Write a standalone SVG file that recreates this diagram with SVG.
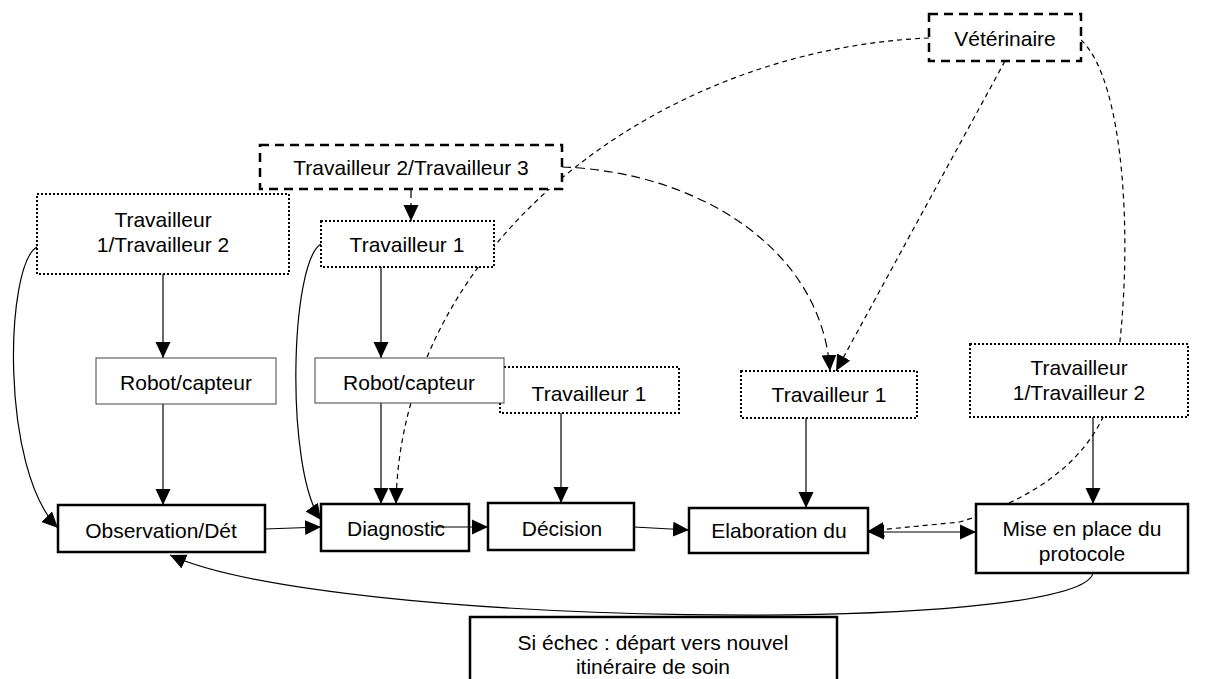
<svg xmlns="http://www.w3.org/2000/svg" width="1215" height="679" viewBox="0 0 1215 679">
<style>
.proc{fill:#fff;stroke:#000;stroke-width:2.5}
.dot{fill:#fff;stroke:#000;stroke-width:2;stroke-dasharray:2,2}
.dash{fill:#fff;stroke:#000;stroke-width:2.5;stroke-dasharray:9,6}
.thin{fill:#fff;stroke:#444;stroke-width:1}
.t{font-family:"Liberation Sans",Arial,sans-serif;font-size:21px;fill:#000;text-anchor:middle}
.c{fill:none;stroke:#000;stroke-width:1.2}
.cd{fill:none;stroke:#000;stroke-width:1.2;stroke-dasharray:5,4}
.cl{fill:none;stroke:#000;stroke-width:1.2;stroke-dasharray:9,5}
</style>
<defs>
<marker id="ah" markerUnits="userSpaceOnUse" markerWidth="16" markerHeight="16" refX="16" refY="8" orient="auto">
<path d="M0,0.5 L16,8 L0,15.5 z" fill="#000"/>
</marker>
<marker id="as" markerUnits="userSpaceOnUse" markerWidth="16" markerHeight="16" refX="0" refY="8" orient="auto">
<path d="M16,0.5 L0,8 L16,15.5 z" fill="#000"/>
</marker>
</defs>
<rect width="1215" height="679" fill="#fff"/>
<g id="connectors">
<path class="c" d="M163,274 L163,358" marker-end="url(#ah)"/>
<path class="c" d="M163,404 L163,505" marker-end="url(#ah)"/>
<path class="c" d="M381,267 L381,358" marker-end="url(#ah)"/>
<path class="c" d="M381,403 L381,504" marker-end="url(#ah)"/>
<path class="c" d="M561,413 L561,503" marker-end="url(#ah)"/>
<path class="c" d="M806,418 L806,508" marker-end="url(#ah)"/>
<path class="c" d="M1093,417 L1093,504" marker-end="url(#ah)"/>
<path class="c" d="M37,247 C5,265 0,470 58,528" marker-end="url(#ah)"/>
<path class="c" d="M321,244 C290,262 285,470 321,520" marker-end="url(#ah)"/>
<path class="c" d="M265,529 L321,527" marker-end="url(#ah)"/>
<path class="c" d="M433,527 L488,527" marker-end="url(#ah)"/>
<path class="c" d="M634,527 L689,530" marker-end="url(#ah)"/>
<path class="c" d="M868,532 L976,532" marker-start="url(#as)" marker-end="url(#ah)"/>
<path class="c" d="M1093,573 C1080,635 330,628 170,555" marker-end="url(#ah)"/>
<path class="cl" d="M411,189 L411,221" marker-end="url(#ah)"/>
<path class="cl" d="M562,167 C700,172 822,250 830,371" marker-end="url(#ah)"/>
<path class="cd" d="M929,38 C650,50 400,250 396,504" marker-end="url(#ah)"/>
<path class="cd" d="M1005,61 L836,371" marker-end="url(#ah)"/>
<path class="cd" d="M1081,40 C1125,80 1135,250 1115,380 C1100,460 1030,500 960,522 L868,531" marker-end="url(#ah)"/>
</g>
<g id="n-veterinaire"><rect class="dash" x="929" y="14" width="152" height="47"/><text class="t" x="1005" y="46">Vétérinaire</text></g>
<g id="n-trav23"><rect class="dash" x="260" y="145" width="302" height="44"/><text class="t" x="411" y="175">Travailleur 2/Travailleur 3</text></g>
<g id="n-trav12-left"><rect class="dot" x="37" y="194" width="252" height="80"/><text class="t" x="163" y="227">Travailleur</text><text class="t" x="163" y="252">1/Travailleur 2</text></g>
<g id="n-trav1-diag"><rect class="dot" x="321" y="221" width="173" height="46"/><text class="t" x="407" y="252">Travailleur 1</text></g>
<g id="n-robot1"><rect class="thin" x="96" y="358" width="180" height="46"/><text class="t" x="186" y="390">Robot/capteur</text></g>
<g id="n-trav1-dec"><rect class="dot" x="500" y="367" width="179" height="46"/><text class="t" x="589" y="401">Travailleur 1</text></g>
<g id="n-robot2"><rect class="thin" x="315" y="358" width="189" height="45"/><text class="t" x="409" y="390">Robot/capteur</text></g>
<g id="n-trav1-elab"><rect class="dot" x="741" y="371" width="176" height="47"/><text class="t" x="829" y="402">Travailleur 1</text></g>
<g id="n-trav12-right"><rect class="dot" x="970" y="344" width="218" height="73"/><text class="t" x="1079" y="375">Travailleur</text><text class="t" x="1079" y="400">1/Travailleur 2</text></g>
<g id="n-observation"><rect class="proc" x="58" y="505" width="207" height="47"/><text class="t" x="161" y="538">Observation/Dét</text></g>
<g id="n-diagnostic"><rect class="proc" x="321" y="504" width="148" height="47" style="fill:none"/><text class="t" x="396" y="536">Diagnostic</text></g>
<g id="n-decision"><rect class="proc" x="488" y="503" width="146" height="47"/><text class="t" x="562" y="536">Décision</text></g>
<g id="n-elaboration"><rect class="proc" x="689" y="508" width="179" height="45"/><text class="t" x="779" y="538">Elaboration du</text></g>
<g id="n-mise"><rect class="proc" x="976" y="504" width="212" height="69"/><text class="t" x="1082" y="536">Mise en place du</text><text class="t" x="1082" y="561">protocole</text></g>
<g id="n-echec"><rect class="proc" x="470" y="617" width="367" height="80"/><text class="t" x="653" y="650">Si échec : départ vers nouvel</text><text class="t" x="653" y="674">itinéraire de soin</text></g>
</svg>
